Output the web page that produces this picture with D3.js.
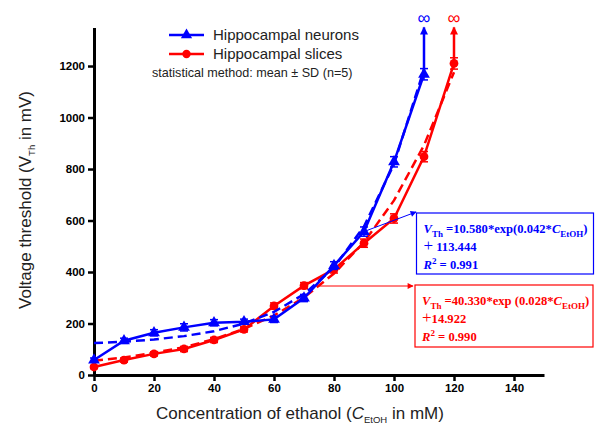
<!DOCTYPE html>
<html>
<head>
<meta charset="utf-8">
<script src="https://cdn.jsdelivr.net/npm/d3@7"></script>
<style>
  body { margin:0; background:#fff; }
  svg { display:block; font-family: Arial, "Liberation Sans", sans-serif; }
  .tick text { font-weight:bold; font-size:11.5px; font-family: Arial, "Liberation Sans", sans-serif; }
  .eq { font-family: "Liberation Serif", "Times New Roman", serif; font-weight:bold; font-size:12.6px; }
</style>
</head>
<body>
<svg id="chart" width="595" height="428"></svg>
<script>
// ── data ──
const conc      = [0, 10, 20, 30, 40, 50, 60, 70, 80, 90, 100, 110, 120];
const neurons   = [58, 133, 164, 185, 203, 207, 216, 299, 425, 557, 828, 1168];
const neuronsSD = [8, 10, 12, 14, 12, 10, 12, 14, 15, 18, 20, 22];
const slices    = [31, 58, 82, 101, 136, 177, 268, 347, 410, 512, 608, 848, 1210];
const slicesSD  = [6, 8, 8, 10, 10, 10, 12, 12, 14, 16, 18, 20, 22];
// fitted curves
const neuronsFit = [124, 129, 138, 151, 170, 200, 245, 314, 418, 577, 819, 1187];
const slicesFit  = [55, 68, 86, 108, 139, 179, 231, 301, 394, 516, 678, 892, 1176];
const xTicks = [0, 20, 40, 60, 80, 100, 120, 140];
const yTicks = [0, 200, 400, 600, 800, 1000, 1200];

const BLUE = '#0000ff', RED = '#ff0000';

const svg = d3.select('#chart');
const x = d3.scaleLinear().domain([0, 150]).range([94, 544]);
const y = d3.scaleLinear().domain([0, 1350]).range([375, 27.4]);

// ── axes ──
const gx = svg.append('g').attr('transform', `translate(0,${y(0)})`)
  .call(d3.axisBottom(x).tickValues(xTicks).tickFormat(d3.format('d'))
    .tickSize(6).tickPadding(3).tickSizeOuter(0));
const gy = svg.append('g').attr('transform', `translate(${x(0)},0)`)
  .call(d3.axisLeft(y).tickValues(yTicks).tickFormat(d3.format('d'))
    .tickSize(6).tickPadding(3).tickSizeOuter(0));
[gx, gy].forEach(g => {
  g.select('.domain').attr('stroke', '#000').attr('stroke-width', 3);
  g.selectAll('.tick line').attr('stroke', '#000').attr('stroke-width', 2.5);
  g.selectAll('.tick text').attr('fill', '#000');
});

// axis titles
const yl = svg.append('text')
  .attr('transform', 'translate(31,200) rotate(-90)')
  .attr('text-anchor', 'middle').attr('font-size', 17).attr('fill', '#222');
yl.append('tspan').text('Voltage threshold (V');
yl.append('tspan').attr('font-size', 9.5).attr('dy', 4).text('Th');
yl.append('tspan').attr('dy', -4).text(' in mV)');

const xl = svg.append('text')
  .attr('x', 300).attr('y', 419)
  .attr('text-anchor', 'middle').attr('font-size', 17).attr('fill', '#222');
xl.append('tspan').text('Concentration of ethanol (');
xl.append('tspan').attr('font-style', 'italic').text('C');
xl.append('tspan').attr('font-size', 9.5).attr('dy', 4).text('EtOH');
xl.append('tspan').attr('dy', -4).text(' in mM)');

// ── arrow markers ──
const defs = svg.append('defs');
function arrowDef(id, color, w, h) {
  defs.append('marker').attr('id', id)
    .attr('viewBox', '0 0 10 10').attr('refX', 9).attr('refY', 5)
    .attr('markerUnits', 'userSpaceOnUse')
    .attr('markerWidth', w).attr('markerHeight', h).attr('orient', 'auto')
    .append('path').attr('d', 'M0,0 L10,5 L0,10 Z').attr('fill', color);
}
arrowDef('arrB', BLUE, 11, 8);
arrowDef('arrR', RED, 11, 8);
arrowDef('arrBs', BLUE, 8, 6);
arrowDef('arrRs', RED, 8, 6);

// ── series ──
const line = d3.line().x(d => x(d[0])).y(d => y(d[1]));

function drawSeries(vals, sd, fit, color, shape, arrId) {
  const pts = vals.map((v, i) => [conc[i], v]);
  const fitPts = fit.map((v, i) => [conc[i], v]);
  const g = svg.append('g');

  // dashed fit
  g.append('path').datum(fitPts).attr('d', line)
    .attr('fill', 'none').attr('stroke', color).attr('stroke-width', 2.5)
    .attr('stroke-dasharray', '9,5');

  // data line
  g.append('path').datum(pts).attr('d', line)
    .attr('fill', 'none').attr('stroke', color).attr('stroke-width', 2.5);

  // arrow to infinity
  const last = pts[pts.length - 1];
  g.append('line')
    .attr('x1', x(last[0])).attr('y1', y(last[1]))
    .attr('x2', x(last[0])).attr('y2', y(1350))
    .attr('stroke', color).attr('stroke-width', 2.5)
    .attr('marker-end', `url(#${arrId})`);
  g.append('text')
    .attr('x', x(last[0])).attr('y', 24)
    .attr('text-anchor', 'middle').attr('font-size', 18).attr('fill', color)
    .text('\u221e');

  // error bars
  pts.forEach((p, i) => {
    const cx = x(p[0]);
    g.append('line').attr('x1', cx).attr('x2', cx)
      .attr('y1', y(p[1] - sd[i])).attr('y2', y(p[1] + sd[i]))
      .attr('stroke', color).attr('stroke-width', 1.5);
    [p[1] - sd[i], p[1] + sd[i]].forEach(v => {
      g.append('line').attr('x1', cx - 4).attr('x2', cx + 4)
        .attr('y1', y(v)).attr('y2', y(v))
        .attr('stroke', color).attr('stroke-width', 1.5);
    });
  });

  // markers
  g.selectAll('path.mk').data(pts).join('path').attr('class', 'mk')
    .attr('transform', d => `translate(${x(d[0])},${y(d[1])})`)
    .attr('d', d3.symbol().type(shape).size(shape === d3.symbolCircle ? 60 : 60))
    .attr('fill', color);
}

drawSeries(slices, slicesSD, slicesFit, RED, d3.symbolCircle, 'arrR');
drawSeries(neurons, neuronsSD, neuronsFit, BLUE, d3.symbolTriangle, 'arrB');

// ── legend ──
const legend = [
  { label: 'Hippocampal neurons', color: BLUE, shape: d3.symbolTriangle, y: 35 },
  { label: 'Hippocampal slices', color: RED, shape: d3.symbolCircle, y: 54 },
];
legend.forEach(l => {
  svg.append('line').attr('x1', 169).attr('x2', 204).attr('y1', l.y).attr('y2', l.y)
    .attr('stroke', l.color).attr('stroke-width', 2.5);
  svg.append('path').attr('transform', `translate(186.5,${l.y})`)
    .attr('d', d3.symbol().type(l.shape).size(55)).attr('fill', l.color);
  svg.append('text').attr('x', 213).attr('y', l.y + 5)
    .attr('font-size', 15).attr('fill', '#222').text(l.label);
});
svg.append('text').attr('x', 152).attr('y', 77)
  .attr('font-size', 12.6).attr('fill', '#222')
  .text('statistical method: mean \u00b1 SD (n=5)');

// ── equation boxes ──
function eqBox(color, box, from, to, arrId, lines) {
  svg.append('line').attr('x1', from[0]).attr('y1', from[1])
    .attr('x2', to[0]).attr('y2', to[1])
    .attr('stroke', color).attr('stroke-width', 1)
    .attr('marker-end', `url(#${arrId})`);
  svg.append('rect').attr('x', box[0]).attr('y', box[1])
    .attr('width', box[2]).attr('height', box[3])
    .attr('fill', '#fff').attr('stroke', color).attr('stroke-width', 1.2);
  lines.forEach(l => {
    const t = svg.append('text').attr('class', 'eq').attr('fill', color)
      .attr('x', box[0] + 7).attr('y', l.y);
    l.parts.forEach(p => {
      const s = t.append('tspan').text(p.t);
      if (p.i) s.attr('font-style', 'italic');
      if (p.sub) s.attr('font-size', 9).attr('dy', 4);
      if (p.sup) s.attr('font-size', 9).attr('dy', -5);
      if (p.back) s.attr('dy', p.back);
      if (p.big) s.attr('font-size', 17).attr('font-weight', 'normal');
    });
  });
}

eqBox(BLUE, [416.5, 213, 177, 61], [x(90), y(557)], [416, 212], 'arrBs', [
  { y: 233, parts: [{ t: 'V', i: 1 }, { t: 'Th', sub: 1 }, { t: ' =10.580*exp(0.042*', back: -4 },
    { t: 'C', i: 1 }, { t: 'EtOH', sub: 1 }, { t: ')', back: -4 }] },
  { y: 251, parts: [{ t: '+', big: 1 }, { t: ' 113.444' }] },
  { y: 268.5, parts: [{ t: 'R', i: 1 }, { t: '2', sup: 1 }, { t: ' = 0.991', back: 5 }] },
]);

eqBox(RED, [415, 285, 178, 62], [x(75), 286], [413, 286], 'arrRs', [
  { y: 305, parts: [{ t: 'V', i: 1 }, { t: 'Th', sub: 1 }, { t: ' =40.330*exp (0.028*', back: -4 },
    { t: 'C', i: 1 }, { t: 'EtOH', sub: 1 }, { t: ')', back: -4 }] },
  { y: 323, parts: [{ t: '+', big: 1 }, { t: '14.922' }] },
  { y: 341, parts: [{ t: 'R', i: 1 }, { t: '2', sup: 1 }, { t: ' = 0.990', back: 5 }] },
]);
</script>
</body>
</html>
